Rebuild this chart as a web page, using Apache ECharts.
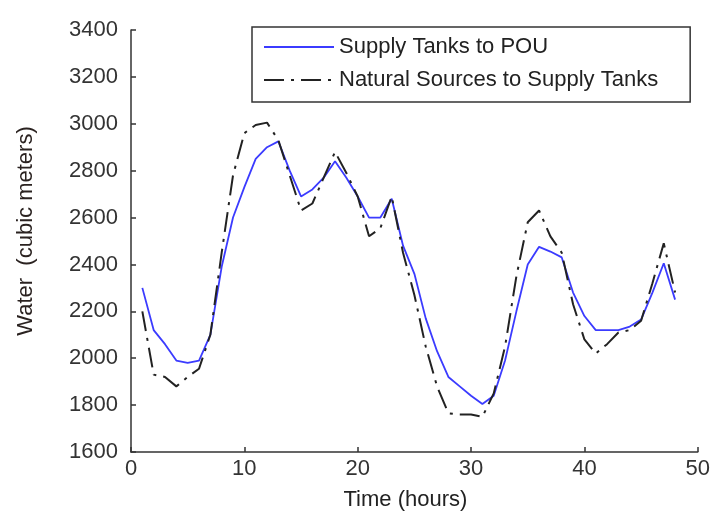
<!DOCTYPE html>
<html>
<head>
<meta charset="utf-8">
<script src="https://cdn.jsdelivr.net/npm/echarts@6/dist/echarts.min.js"></script>
<style>
html,body{margin:0;padding:0;background:#fff;}
#chart{width:713px;height:518px;}
</style>
</head>
<body>
<div id="chart"></div>
<script>
var hours = [1,2,3,4,5,6,7,8,9,10,11,12,13,14,15,16,17,18,19,20,21,22,23,24,25,26,27,28,29,30,31,32,33,34,35,36,37,38,39,40,41,42,43,44,45,46,47,48];
var supplyToPOU = [2300,2120,2060,1990,1980,1990,2100,2390,2600,2730,2850,2900,2925,2800,2690,2720,2770,2840,2770,2690,2600,2600,2680,2480,2360,2170,2030,1920,1880,1840,1805,1840,1990,2200,2400,2475,2455,2430,2280,2180,2120,2120,2120,2135,2165,2280,2405,2250];
var naturalToSupply = [2200,1930,1920,1880,1920,1955,2100,2450,2780,2960,2995,3005,2930,2780,2630,2660,2770,2880,2790,2690,2520,2555,2690,2450,2270,2050,1880,1765,1760,1760,1750,1850,2050,2350,2580,2630,2520,2450,2230,2080,2020,2060,2110,2120,2160,2320,2490,2280];
var seriesNames = ['Supply Tanks to POU', 'Natural Sources to Supply Tanks'];
var xLabel = 'Time (hours)';
var yLabel = 'Water  (cubic meters)';

function pairs(xs, ys){ return xs.map(function(x,i){ return [x, ys[i]]; }); }

var FONT = "'Liberation Sans', Arial, sans-serif";
var chart = echarts.init(document.getElementById('chart'));
chart.setOption({
  animation: false,
  backgroundColor: '#ffffff',
  grid: { left: 131, right: 13, top: 30, bottom: 66, containLabel: false },
  legend: {
    orient: 'vertical',
    left: 252, top: 27,
    padding: [9, 32, 11, 11],
    itemGap: 11,
    itemWidth: 70,
    itemHeight: 14,
    borderColor: '#333',
    borderWidth: 1.5,
    itemStyle: { opacity: 0 },
    textStyle: { fontFamily: FONT, fontSize: 22, color: '#222', lineHeight: 22 },
    data: seriesNames
  },
  xAxis: {
    type: 'value', min: 0, max: 50, interval: 10,
    name: xLabel, nameLocation: 'middle', nameGap: 37,
    nameTextStyle: { fontFamily: FONT, fontSize: 22, color: '#222', padding: [0, 18, 0, 0] },
    axisLine: { show: true, lineStyle: { color: '#333', width: 1.5 } },
    axisTick: { show: true, inside: true, length: 5, lineStyle: { color: '#333', width: 1.5 } },
    axisLabel: { fontFamily: FONT, fontSize: 22, color: '#333', margin: 6 },
    splitLine: { show: false }
  },
  yAxis: {
    type: 'value', min: 1600, max: 3400, interval: 200,
    name: yLabel, nameLocation: 'middle', nameGap: 94,
    nameTextStyle: { fontFamily: FONT, fontSize: 22, color: '#2a2220', padding: [0, 0, 0, 20] },
    axisLine: { show: true, lineStyle: { color: '#333', width: 1.5 } },
    axisTick: { show: true, inside: true, length: 5, lineStyle: { color: '#333', width: 1.5 } },
    axisLabel: { fontFamily: FONT, fontSize: 22, color: '#333', margin: 13, padding: [0, 0, 8, 0],
      formatter: function (v) { return String(v); } },
    splitLine: { show: false }
  },
  series: [
    {
      name: seriesNames[0], type: 'line', data: pairs(hours, supplyToPOU),
      symbol: 'none', showSymbol: false,
      lineStyle: { color: '#3b3bff', width: 1.8, type: 'solid' },
      itemStyle: { color: '#3b3bff' }
    },
    {
      name: seriesNames[1], type: 'line', data: pairs(hours, naturalToSupply),
      symbol: 'none', showSymbol: false,
      lineStyle: { color: '#222', width: 2, type: [20, 7, 3, 7] },
      itemStyle: { color: '#222' }
    }
  ]
});
</script>
</body>
</html>
